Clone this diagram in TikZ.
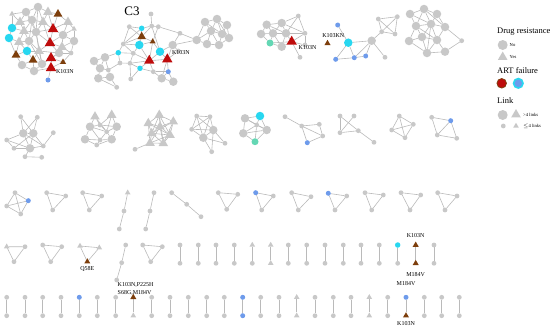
\documentclass[tikz,border=0pt]{standalone}
\usepackage{fontspec}
\setmainfont{Liberation Serif}
\usetikzlibrary{shapes.geometric,backgrounds}
\definecolor{ngray}{RGB}{200,200,200}
\definecolor{egray}{RGB}{186,186,186}
\definecolor{ncyan}{RGB}{40,215,240}
\definecolor{nblue}{RGB}{110,155,235}
\definecolor{nred}{RGB}{190,12,12}
\definecolor{nbrown}{RGB}{125,62,12}
\definecolor{nmint}{RGB}{100,215,180}
\tikzset{
 nbase/.style={circle,inner sep=0pt,outer sep=0pt,draw=none},
 gs/.style={nbase,fill=ngray,minimum size=4.8pt},
 gb/.style={nbase,fill=ngray,minimum size=8.5pt},
 tri/.style={regular polygon,regular polygon sides=3,inner sep=0pt,outer sep=0pt,draw=none},
 ts/.style={tri,fill=ngray,minimum size=6.5pt},
 tb/.style={tri,fill=ngray,minimum size=11pt},
 cys/.style={nbase,fill=ncyan,minimum size=5.5pt},
 cyb/.style={nbase,fill=ncyan,minimum size=8.5pt},
 blu/.style={nbase,fill=nblue,minimum size=5pt},
 rtb/.style={tri,fill=nred,minimum size=12pt},
 bts/.style={tri,fill=nbrown,minimum size=7pt},
 btb/.style={tri,fill=nbrown,minimum size=10pt},
 mnt/.style={nbase,fill=nmint,minimum size=7pt},
 ed/.style={draw=egray,line width=0.6pt},
 lab/.style={font=\fontsize{6}{7}\selectfont,inner sep=0.5pt},
 ttl/.style={font=\fontsize{8.5}{9}\selectfont,anchor=west,inner sep=0pt},
 sml/.style={font=\fontsize{4.6}{5}\selectfont,anchor=west,inner sep=0pt},
}
\newcommand\mkTri[7]{%
 \node[#5] (#1a) at #2 {};
 \node[#6] (#1b) at #3 {};
 \node[#7] (#1c) at #4 {};
 \begin{pgfonlayer}{background}\draw[ed] (#1a)--(#1b) (#1b)--(#1c) (#1c)--(#1a);\end{pgfonlayer}}
\newcommand\mkPath[7]{%
 \node[#5] (#1a) at #2 {};
 \node[#6] (#1b) at #3 {};
 \node[#7] (#1c) at #4 {};
 \begin{pgfonlayer}{background}\draw[ed] (#1a)--(#1b) (#1b)--(#1c);\end{pgfonlayer}}
\newcommand\mkPair[5]{%
 \node[#4] (#1a) at #2 {};
 \node[#5] (#1b) at #3 {};
 \begin{pgfonlayer}{background}\draw[ed,line width=0.8pt] (#1a)--(#1b);\end{pgfonlayer}}
\begin{document}
\begin{tikzpicture}[x=1pt,y=-1pt]
\useasboundingbox (0,0) rectangle (550,330);
% ---------- Cluster A (top left) ----------
\node[ts] (A1) at (12,14) {};
\node[gb] (A2) at (26,12) {};
\node[gb] (A3) at (38,7) {};
\node[tb] (A4) at (48,12) {};
\node[btb] (A5) at (58,14) {};
\node[tb] (A6) at (68,22) {};
\node[tb] (A7) at (20,22) {};
\node[gb] (A8) at (32,20) {};
\node[tb] (A9) at (43,22) {};
\node[rtb] (A10) at (53,29) {};
\node[cyb] (A11) at (12,28) {};
\node[tb] (A12) at (24,31) {};
\node[gb] (A13) at (36,32) {};
\node[gb] (A14) at (63,35) {};
\node[ts] (A15) at (74,29) {};
\node[cyb] (A16) at (9,38) {};
\node[tb] (A17) at (19,42) {};
\node[gb] (A18) at (29,41) {};
\node[rtb] (A19) at (50,43) {};
\node[tb] (A20) at (62,47) {};
\node[gb] (A21) at (74,41) {};
\node[btb] (A22) at (16,55) {};
\node[cyb] (A23) at (27,51) {};
\node[tb] (A24) at (39,51) {};
\node[btb] (A25) at (33,60) {};
\node[gb] (A26) at (22,65) {};
\node[gb] (A27) at (42,64) {};
\node[rtb] (A28) at (51,58) {};
\node[rtb] (A29) at (51,68) {};
\node[bts] (A30) at (63,62) {};
\node[gb] (A31) at (59,53) {};
\node[gb] (A32) at (34,71) {};
\node[blu] (A33) at (48,80) {};
\node[gs] (A34) at (71,53) {};
\node[lab] (lA) at (65,72) {K103N};
\begin{pgfonlayer}{background}
\foreach \a/\b in {A1/A2,A1/A7,A1/A11,A2/A3,A2/A7,A2/A8,A3/A4,A3/A8,A3/A9,A4/A5,A4/A9,A4/A10,A5/A6,A5/A10,A6/A14,A6/A15,A6/A10,A7/A8,A7/A11,A7/A12,A8/A9,A8/A12,A8/A13,A9/A10,A9/A13,A10/A13,A10/A14,A10/A19,A11/A12,A11/A16,A12/A13,A12/A17,A12/A18,A13/A18,A13/A19,A13/A24,A14/A15,A14/A19,A14/A20,A14/A21,A15/A21,A16/A17,A16/A22,A17/A18,A17/A22,A17/A23,A18/A23,A18/A24,A19/A20,A19/A24,A19/A31,A20/A21,A20/A31,A20/A34,A21/A34,A22/A23,A22/A26,A23/A24,A23/A25,A24/A25,A24/A27,A24/A31,A25/A26,A25/A27,A25/A32,A26/A32,A27/A28,A27/A31,A27/A32,A28/A29,A28/A30,A28/A31,A29/A32,A29/A30,A30/A34,A31/A34,A29/A33,A2/A13,A8/A18,A9/A19,A3/A13,A18/A27,A13/A27}
 \draw[ed] (\a)--(\b);
\end{pgfonlayer}
% ---------- Cluster C3 ----------
\node[font=\fontsize{13}{14}\selectfont,inner sep=0pt] (lC3) at (132,11) {C3};
\node[gs] (B1) at (151,14) {};
\node[gs] (B2) at (151.7,26) {};
\node[cys] (B3) at (141.7,28.3) {};
\node[gs] (B4) at (129.3,26.7) {};
\node[gs] (B5) at (158.3,26.7) {};
\node[btb] (B6) at (141.7,36.7) {};
\node[bts] (B7) at (152.7,41.7) {};
\node[cyb] (B8) at (139.3,45) {};
\node[cyb] (B9) at (160,51.7) {};
\node[gs] (B10) at (123.3,44) {};
\node[gs] (B11) at (133.3,53.3) {};
\node[rtb] (B12) at (149.3,60.7) {};
\node[rtb] (B13) at (167.3,59.3) {};
\node[cys] (B14) at (140,68.3) {};
\node[blu] (B15) at (168.3,71.7) {};
\node[gs] (B16) at (130.7,79) {};
\node[cys] (B17) at (118.3,52.7) {};
\node[gb] (B18) at (105,57.3) {};
\node[gb] (B19) at (100,68.3) {};
\node[gs] (B20) at (108.3,70) {};
\node[gb] (B21) at (110,77) {};
\node[gb] (B22) at (98.3,78.3) {};
\node[gs] (B23) at (116.7,87.3) {};
\node[gb] (B24) at (161.7,78.3) {};
\node[gb] (B25) at (172.7,45) {};
\node[gs] (B26) at (180,33.3) {};
\node[gs] (B27) at (178.3,51) {};
\node[gb] (B28) at (173.3,81.7) {};
\node[gs] (B29) at (153.3,71.7) {};
\node[gs] (B30) at (130,63.3) {};
\node[gs] (B31) at (120,63) {};
\node[gb] (B32) at (94,61) {};
\node[lab] (lB) at (181,52.7) {K103N};
% cluster D
\node[gb] (D1) at (196.7,40) {};
\node[gb] (D2) at (205,22) {};
\node[gb] (D3) at (217,19) {};
\node[gb] (D4) at (227,25) {};
\node[gb] (D5) at (211,31) {};
\node[gb] (D6) at (222,34) {};
\node[gb] (D7) at (207,44) {};
\node[gb] (D8) at (219,45) {};
\node[gb] (D9) at (229,38) {};
\begin{pgfonlayer}{background}
\foreach \a/\b in {B1/B2,B2/B3,B2/B5,B2/B6,B3/B4,B3/B6,B4/B10,B4/B6,B5/B7,B5/B26,B6/B7,B6/B8,B6/B10,B7/B8,B7/B9,B7/B12,B8/B10,B8/B11,B8/B12,B9/B12,B9/B13,B9/B25,B10/B11,B10/B17,B11/B12,B11/B30,B11/B17,B12/B13,B12/B14,B12/B29,B13/B15,B13/B24,B13/B25,B13/B27,B14/B16,B14/B29,B14/B30,B15/B24,B15/B28,B16/B30,B17/B18,B17/B31,B18/B19,B18/B20,B18/B32,B19/B20,B19/B22,B19/B32,B20/B21,B20/B31,B21/B22,B21/B23,B22/B23,B24/B28,B24/B29,B25/B26,B25/B27,B29/B15,B30/B31,B12/B30,B9/B2,B10/B3,B8/B3,B25/D1,B26/D1,D1/D2,D1/D5,D1/D7,D2/D3,D2/D5,D3/D4,D3/D5,D3/D6,D4/D6,D4/D9,D5/D6,D5/D7,D5/D8,D6/D8,D6/D9,D7/D8,D8/D9,D2/D6,D3/D9}
 \draw[ed] (\a)--(\b);
\end{pgfonlayer}
% ---------- Cluster E ----------
\node[gs] (E1) at (298.3,16) {};
\node[gb] (E2) at (266.7,24.7) {};
\node[gb] (E3) at (281.7,23) {};
\node[gb] (E4) at (273,33.3) {};
\node[gb] (E5) at (286,33.3) {};
\node[mnt] (E6) at (270,43) {};
\node[gb] (E7) at (281.7,46.7) {};
\node[rtb] (E8) at (291.7,41.7) {};
\node[gs] (E9) at (305,33.3) {};
\node[gs] (E10) at (305,45) {};
\node[gs] (E11) at (300,57.3) {};
\node[gb] (E12) at (261,34) {};
\node[lab] (lE) at (307.5,48) {K103N};
% cluster F
\node[bts] (F0) at (327.5,43.3) {};
\node[lab] (lF) at (333.3,35.7) {K103KN};
\node[blu] (F1) at (337.7,25) {};
\node[cyb] (F2) at (348.3,42.7) {};
\node[blu] (F3) at (335.7,59.3) {};
\node[blu] (F4) at (354.3,57.7) {};
\node[blu] (F5) at (365.7,56) {};
\node[gb] (F6) at (371.7,40.7) {};
\node[gs] (F7) at (385,57.3) {};
\node[gs] (F8) at (378.3,19) {};
\node[gs] (F9) at (397.3,16.7) {};
\node[gs] (F10) at (381.7,31.7) {};
\node[gs] (F11) at (395,34) {};
% cluster G
\node[gb] (G1) at (410,14) {};
\node[gb] (G2) at (424,9) {};
\node[gb] (G3) at (437,14) {};
\node[gb] (G4) at (416,26) {};
\node[gb] (G5) at (431,24) {};
\node[gb] (G6) at (445,27) {};
\node[gb] (G7) at (422,37) {};
\node[gb] (G8) at (437,40) {};
\node[gb] (G9) at (427,53) {};
\node[gb] (G10) at (445,51.7) {};
\node[gs] (G11) at (461.7,40.7) {};
\node[gb] (G12) at (409,41) {};
\begin{pgfonlayer}{background}
\foreach \a/\b in {E12/E2,E12/E4,E12/E6,E2/E3,E2/E4,E2/E5,E3/E4,E3/E5,E3/E1,E4/E5,E4/E6,E4/E7,E5/E7,E5/E8,E5/E9,E6/E7,E6/E8,E7/E8,E8/E9,E8/E10,E8/E11,E9/E10,E1/E9,E1/E5,E3/E9,F1/F2,F2/F3,F2/F4,F3/F4,F2/F6,F4/F6,F5/F6,F4/F5,F6/F7,F6/F10,F8/F9,F8/F10,F8/F11,F9/F10,F9/F11,F10/F11,G1/G2,G1/G4,G1/G5,G2/G3,G2/G4,G2/G5,G2/G6,G3/G5,G3/G6,G4/G5,G4/G7,G4/G12,G5/G6,G5/G7,G5/G8,G6/G8,G6/G11,G7/G8,G7/G9,G7/G12,G8/G9,G8/G10,G9/G10,G10/G11,G12/G9,G4/G8,G5/G9}
 \draw[ed] (\a)--(\b);
\end{pgfonlayer}
% ---------- Row 2 ----------
\node[gs] (P1) at (20.7,116.7) {};
\node[gs] (P2) at (37.3,117.3) {};
\node[gb] (P3) at (23.3,133.3) {};
\node[gb] (P4) at (33.3,133.3) {};
\node[gs] (P5) at (53.3,132.7) {};
\node[gs] (P6) at (6.7,140) {};
\node[gs] (P7) at (14,148.3) {};
\node[gb] (P8) at (30,148.3) {};
\node[gs] (P9) at (43.3,146) {};
\node[gs] (P10) at (25,156.7) {};
\node[gs] (P11) at (41.7,157.3) {};
\node[tb] (Q1) at (95,116.7) {};
\node[tb] (Q2) at (111.7,115) {};
\node[gb] (Q3) at (90,126.7) {};
\node[gs] (Q4) at (100,125) {};
\node[gb] (Q5) at (116.7,126.7) {};
\node[gs] (Q6) at (106.7,131.7) {};
\node[gb] (Q7) at (85,139.3) {};
\node[gs] (Q8) at (100,140) {};
\node[gb] (Q9) at (111.7,139.3) {};
\node[gs] (Q10) at (96.7,145) {};
\node[tb] (S1) at (159.3,115) {};
\node[tb] (S2) at (148.3,123.3) {};
\node[tb] (S3) at (173.3,121.7) {};
\node[tb] (S4) at (160,126.7) {};
\node[tb] (S5) at (151.7,133.3) {};
\node[tb] (S6) at (170,135) {};
\node[tb] (S7) at (163.3,143.3) {};
\node[tb] (S8) at (150,143) {};
\node[gs] (S9) at (135,149.3) {};
\node[gs] (U1) at (196.7,116) {};
\node[gs] (U2) at (210,116.7) {};
\node[gs] (U3) at (191.7,129.3) {};
\node[gb] (U4) at (213.3,130) {};
\node[gb] (U5) at (203.3,137.7) {};
\node[gs] (U6) at (225,143.3) {};
\node[gs] (U7) at (211.7,151.7) {};
\node[cyb] (V1) at (260,116) {};
\node[gb] (V2) at (245,118.3) {};
\node[gb] (V3) at (243.3,133.3) {};
\node[gs] (V4) at (256.7,125) {};
\node[gb] (V5) at (266.7,130) {};
\node[mnt] (V6) at (255,141.7) {};
\node[gs] (W1) at (285,116.7) {};
\node[gs] (W2) at (301.7,126) {};
\node[gs] (W3) at (319.3,124.3) {};
\node[gs] (W4) at (322.7,136) {};
\node[blu] (W5) at (307.3,142.7) {};
\node[gs] (X1) at (340,116) {};
\node[gs] (X2) at (354,116) {};
\node[gs] (X3) at (340,132.7) {};
\node[gs] (X4) at (358.3,130.7) {};
\node[gs] (X5) at (374,142.3) {};
\node[gs] (Y1) at (399.3,116) {};
\node[gs] (Y2) at (413.3,124.3) {};
\node[gs] (Y3) at (391.7,130) {};
\node[gs] (Y4) at (405,137.7) {};
\node[gs] (Z1) at (431.7,117.3) {};
\node[blu] (Z2) at (450.7,120.7) {};
\node[gs] (Z3) at (437.3,135) {};
\node[gs] (Z4) at (456.7,138.3) {};
\begin{pgfonlayer}{background}
\foreach \a/\b in {P1/P3,P1/P4,P2/P3,P2/P4,P3/P4,P3/P6,P3/P8,P3/P9,P4/P8,P4/P9,P4/P7,P6/P7,P6/P8,P7/P8,P8/P9,P9/P5,P8/P10,P10/P11,Q1/Q3,Q1/Q4,Q1/Q6,Q2/Q4,Q2/Q5,Q2/Q6,Q3/Q4,Q3/Q7,Q3/Q6,Q4/Q5,Q4/Q6,Q5/Q6,Q5/Q9,Q6/Q8,Q6/Q9,Q7/Q8,Q7/Q10,Q8/Q9,Q8/Q10,Q9/Q10,Q3/Q8,S1/S2,S1/S3,S1/S4,S1/S5,S1/S6,S1/S7,S2/S4,S2/S5,S2/S6,S2/S8,S3/S4,S3/S5,S3/S6,S3/S7,S4/S5,S4/S6,S4/S7,S4/S8,S5/S6,S5/S7,S5/S8,S6/S7,S6/S8,S7/S8,S8/S9,U1/U2,U1/U3,U1/U4,U1/U5,U2/U3,U2/U4,U2/U5,U3/U4,U3/U5,U4/U5,U4/U6,U5/U6,U5/U7,U4/U7,V1/V2,V1/V4,V1/V5,V2/V3,V2/V4,V3/V4,V3/V5,V3/V6,V4/V5,V4/V6,V5/V6,V2/V5,W1/W2,W2/W3,W2/W5,W3/W4,W5/W4,W2/W4,X1/X3,X2/X3,X1/X4,X3/X4,X4/X5,Y1/Y2,Y1/Y3,Y1/Y4,Y2/Y3,Y2/Y4,Y3/Y4,Z1/Z3,Z1/Z2,Z2/Z3,Z3/Z4,Z2/Z4}
 \draw[ed] (\a)--(\b);
\end{pgfonlayer}
% ---------- Row 3 ----------
\node[gs] (K1) at (15,192.7) {};
\node[blu] (K2) at (28.3,200.7) {};
\node[gs] (K3) at (6.7,206) {};
\node[gs] (K4) at (20.7,214) {};
\begin{pgfonlayer}{background}
\foreach \a/\b in {K1/K2,K1/K3,K1/K4,K2/K3,K2/K4,K3/K4} \draw[ed] (\a)--(\b);
\end{pgfonlayer}
\mkTri{ra}{(46.7,192.7)}{(65.7,196)}{(52.7,210)}{gs}{gs}{gs}
\mkTri{rb}{(82.7,192.7)}{(101.7,196)}{(89.3,210)}{gs}{gs}{gs}
\mkPath{rc}{(127.7,192.7)}{(124,211)}{(119.3,229)}{ts}{gs}{gs}
\mkPath{rd}{(154,192.7)}{(150,211)}{(145.7,229)}{gs}{gs}{gs}
\mkPath{re}{(171.7,192.7)}{(186.7,204.3)}{(201,216.7)}{gs}{gs}{gs}
\mkTri{rf}{(218.3,192.7)}{(237.7,194.3)}{(226.7,209.3)}{gs}{gs}{gs}
\mkTri{rg}{(255.7,192.7)}{(273.3,196)}{(261.7,210)}{blu}{gs}{gs}
\mkTri{rh}{(291.7,192.7)}{(311,196.7)}{(298.3,210)}{gs}{gs}{gs}
\mkTri{ri}{(328.3,193.3)}{(346.7,196)}{(335,210)}{blu}{gs}{gs}
\mkTri{rj}{(365,192.7)}{(383.3,195)}{(371.7,210)}{gs}{gs}{gs}
\mkTri{rk}{(401,192.7)}{(420.7,195)}{(410,210)}{gs}{gs}{gs}
\mkTri{rl}{(437.7,192.7)}{(457,196)}{(445,210)}{gs}{gs}{gs}
% ---------- Row 4 ----------
\mkTri{sa}{(6.7,246.7)}{(25,246.7)}{(14,261.7)}{ts}{gs}{gs}
\mkTri{sb}{(42.7,245)}{(61.7,246.7)}{(50.7,261.7)}{gs}{gs}{gs}
\mkTri{sc}{(80,246)}{(99.3,247.7)}{(87.3,261.7)}{ts}{ts}{bts}
\node[lab] (lQ) at (87.3,269.3) {Q58E};
\mkPath{sd}{(125.7,245)}{(121.7,262.7)}{(116.7,280)}{gs}{gs}{gs}
\mkTri{se}{(142.7,245)}{(162.3,246.7)}{(150.7,261.7)}{gs}{gs}{gs}
\foreach \i/\x/\sa/\sb in {1/180/gs/gs,2/198.3/gs/gs,3/216/gs/gs,4/234.3/gs/gs,5/252.3/ts/gs,6/270.7/ts/ts,7/288.3/gs/gs,8/306.7/gs/gs,9/325/gs/gs,10/343.3/gs/gs,11/361/gs/gs,12/379.3/gs/gs,13/397.7/cys/gs,14/415.7/bts/bts,15/434/gs/gs}
 {\mkPair{pf\i}{(\x,245)}{(\x,263.3)}{\sa}{\sb}}
\node[lab] (lK1) at (415.7,236) {K103N};
\node[lab] (lM1) at (415.7,274.3) {M184V};
% ---------- Row 5 ----------
\foreach \i/\x/\sa/\sb in {1/6.7/gs/gs,2/25/gs/gs,3/42.7/gs/gs,4/61/gs/gs,5/79.3/blu/gs,6/97.3/gs/gs,7/115.7/gs/gs,8/133.3/bts/ts,9/151.7/gs/gs,10/170/gs/gs,11/188.3/gs/gs,12/206.7/gs/gs,13/224.3/gs/gs,14/242.7/blu/blu,15/260.7/gs/gs,16/279/gs/gs,17/296.7/ts/ts,18/315/gs/gs,19/333.3/gs/gs,20/351/gs/gs,21/369.3/ts/ts,22/387.7/gs/gs,23/406/blu/bts,24/424.3/gs/gs,25/441.7/gs/gs,26/459.3/gs/gs}
 {\mkPair{pg\i}{(\x,297.3)}{(\x,315.7)}{\sa}{\sb}}
\node[lab,anchor=west] (lKP) at (117,285) {K103N,P225H};
\node[lab,anchor=west] (lSM) at (117,292.7) {S68G,M184V};
\node[lab] (lM2) at (406,284) {M184V};
\node[lab] (lK2) at (406,323.3) {K103N};
% ---------- Legend ----------
\node[ttl] (t1) at (497,32) {Drug resistance};
\node[gb,minimum size=10pt] (L1) at (502.7,45) {};
\node[sml] (L1t) at (509.5,45) {No};
\node[tb] (L2) at (502.7,57) {};
\node[sml] (L2t) at (509.5,57) {Yes};
\node[ttl] (t2) at (497,71) {ART failure};
\node[nbase,fill=nred,draw=nbrown,line width=0.8pt,minimum size=9.5pt] (L3) at (501.7,83.3) {};
\node[nbase,fill=nblue,draw=ncyan,line width=1.6pt,minimum size=9.5pt] (L4) at (518.3,83.3) {};
\node[ttl] (t3) at (497,101) {Link};
\node[gb,minimum size=10pt] (L5) at (502.7,115) {};
\node[tb] (L6) at (516,114.5) {};
\node[sml] (L6t) at (523,114.5) {>4 links};
\node[gs] (L7) at (503.3,126) {};
\node[ts] (L8) at (516,126) {};
\node[sml] (L8t) at (523,126) {$\le$4 links};
\end{tikzpicture}
\end{document}
